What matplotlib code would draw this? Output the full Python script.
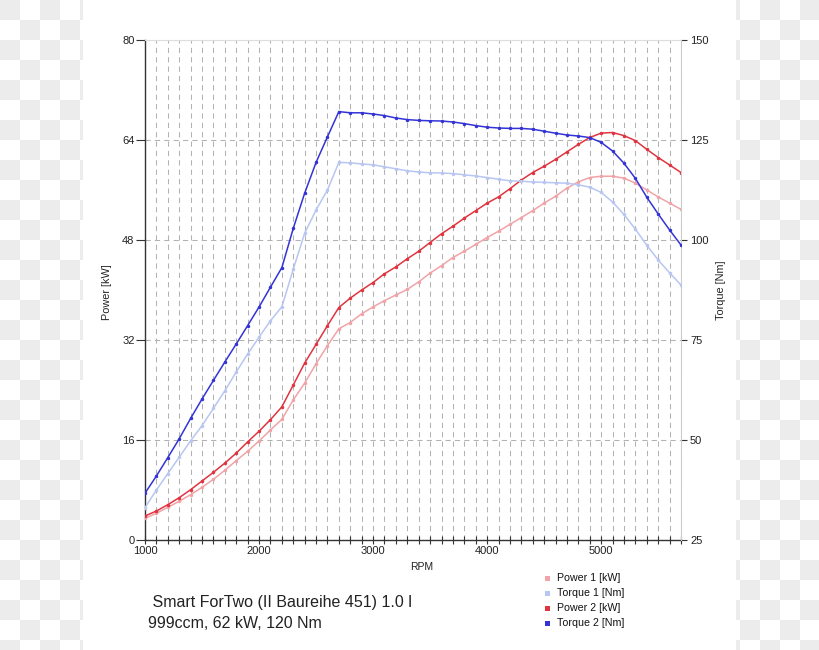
import matplotlib
matplotlib.use("Agg")
import matplotlib.pyplot as plt
from matplotlib.patches import Rectangle
from matplotlib.ticker import MultipleLocator

plt.rcParams['font.family'] = ['Liberation Sans', 'DejaVu Sans']

rpm = list(range(1000, 5800, 100))

power1 = [3.47, 4.27, 5.23, 6.19, 7.25, 8.43, 9.71, 11.15, 12.7, 14.2,
          15.84, 17.6, 19.3, 22.4, 25.1, 28.2, 31.1, 33.8, 34.8, 36.2,
          37.3, 38.3, 39.2, 40.1, 41.3, 42.7, 43.9, 45.2, 46.2, 47.3,
          48.4, 49.4, 50.5, 51.6, 52.7, 53.9, 55.0, 56.3, 57.3, 58.0,
          58.2, 58.2, 57.9, 57.1, 56.0, 54.9, 53.9, 52.9]
torque1 = [33.1, 37.5, 41.6, 45.7, 49.8, 53.6, 57.9, 62.3, 67.0, 71.5,
           75.7, 79.8, 83.3, 92.7, 101.7, 107.5, 112.5, 119.4, 119.3, 119.0,
           118.8, 118.3, 117.8, 117.3, 117.0, 116.8, 116.75, 116.6, 116.3, 116.0,
           115.6, 115.2, 114.8, 114.7, 114.5, 114.4, 114.3, 114.2, 113.8, 113.2,
           111.9, 109.5, 106.4, 102.7, 98.7, 95.0, 91.8, 88.75]
power2 = [3.84, 4.64, 5.65, 6.77, 8.05, 9.44, 10.83, 12.3, 13.9, 15.7,
          17.4, 19.25, 21.3, 24.8, 28.3, 31.3, 34.3, 37.2, 38.7, 40.0,
          41.2, 42.6, 43.7, 45.0, 46.2, 47.6, 49.0, 50.2, 51.5, 52.7,
          53.9, 54.9, 56.2, 57.6, 58.8, 59.8, 60.9, 62.1, 63.3, 64.4,
          65.1, 65.2, 64.7, 63.9, 62.5, 61.2, 60.0, 58.8]
torque2 = [36.7, 41.0, 45.6, 50.3, 55.4, 60.25, 64.9, 69.5, 74.0, 78.6,
           83.25, 88.2, 93.1, 102.9, 111.7, 119.4, 125.8, 132.1, 131.8, 131.8,
           131.5, 131.1, 130.5, 130.1, 129.9, 129.8, 129.75, 129.5, 129.1, 128.6,
           128.2, 128.0, 127.9, 127.9, 127.7, 127.2, 126.7, 126.25, 126.0, 125.6,
           124.4, 122.25, 119.2, 115.4, 110.7, 106.5, 102.5, 98.75]

series_names = ["Power 1 [kW]", "Torque 1 [Nm]", "Power 2 [kW]", "Torque 2 [Nm]"]
series_colors = ["#f0a4a8", "#b8c6f2", "#e03440", "#3434d6"]

power_ticks = [0, 16, 32, 48, 64, 80]
torque_ticks = [25, 50, 75, 100, 125, 150]
rpm_ticks = [1000, 2000, 3000, 4000, 5000]

title_line1 = " Smart ForTwo (II Baureihe 451) 1.0 l"
title_line2 = "999ccm, 62 kW, 120 Nm"

W, H = 820, 650
fig = plt.figure(figsize=(W / 100, H / 100), dpi=100)
fig.patch.set_facecolor("white")

# checkerboard background strips (transparent image pattern)
sq = 20
for (x0, x1) in [(0, 83), (736, 820)]:
    for cx in range(0, W, sq):
        lo, hi = max(cx, x0), min(cx + sq, x1)
        if hi <= lo:
            continue
        for cy in range(0, H, sq):
            if ((cx // sq) + (cy // sq)) % 2 == 0:
                fig.patches.append(Rectangle((lo / W, 1 - (cy + sq) / H), (hi - lo) / W, sq / H,
                                             transform=fig.transFigure, facecolor="#ececec",
                                             edgecolor="none", zorder=0))

left, right, top, bottom = 145, 681, 40, 540
ax = fig.add_axes([left / W, 1 - bottom / H, (right - left) / W, (bottom - top) / H])
ax.set_facecolor("white")
ax.set_xlim(1000, 5700)
ax.set_ylim(0, 80)
ax2 = ax.twinx()
ax2.set_ylim(25, 150)

# grid
ax.xaxis.set_major_locator(MultipleLocator(1000))
ax.xaxis.set_minor_locator(MultipleLocator(100))
ax.set_xticks(rpm_ticks)
ax.set_yticks(power_ticks)
ax2.set_yticks(torque_ticks)
gstyle = dict(color="#b2b2b2", linestyle=(0, (5, 4)), linewidth=0.75)
ax.grid(True, which="both", axis="x", **gstyle)
ax.grid(True, which="major", axis="y", **gstyle)
ax.set_axisbelow(True)

for s in ["left", "bottom"]:
    ax.spines[s].set_color("#333333")
    ax.spines[s].set_linewidth(1.0)
ax.spines["top"].set_color("#dddddd")
ax.spines["right"].set_visible(False)
ax2.spines["left"].set_visible(False)
ax2.spines["bottom"].set_visible(False)
ax2.spines["top"].set_visible(False)
ax2.spines["right"].set_color("#cccccc")

ax.tick_params(axis="x", which="major", direction="inout", length=5.5, width=0.8, color="#333333",
               labelsize=8, labelcolor="#222222", pad=1.5)
ax.tick_params(axis="x", which="minor", direction="inout", length=5.5, width=0.8, color="#333333")
ax.tick_params(axis="y", which="major", direction="out", length=6.5, width=0.8, color="#333333",
               labelsize=8, labelcolor="#222222", pad=1)
ax2.tick_params(axis="y", which="major", direction="out", length=4.5, width=0.8, color="#333333",
                labelsize=8, labelcolor="#222222", pad=2)

ax.set_xlabel("RPM", fontsize=7.5, color="#222222")
ax.xaxis.set_label_coords(0.517, -0.045)
ax.set_ylabel("Power [kW]", fontsize=7.8, color="#222222")
ax.yaxis.set_label_coords(-0.062, 0.495)
ax2.set_ylabel("Torque [Nm]", fontsize=7.8, color="#222222")
ax2.yaxis.set_label_coords(1.065, 0.5)

lw, ms = 1.1, 1.5
ax.plot(rpm, power1, color=series_colors[0], lw=lw, marker="o", ms=ms, zorder=3)
ax.plot(rpm, power2, color=series_colors[2], lw=lw, marker="o", ms=ms, zorder=4)
ax2.plot(rpm, torque1, color=series_colors[1], lw=lw, marker="o", ms=ms, zorder=3)
ax2.plot(rpm, torque2, color=series_colors[3], lw=lw, marker="o", ms=ms, zorder=4)

# legend
for i, (name, col) in enumerate(zip(series_names, series_colors)):
    yc = 578 + 15 * i
    fig.patches.append(Rectangle((545 / W, 1 - (yc + 2.5) / H), 5 / W, 5 / H,
                                 transform=fig.transFigure, facecolor=col, edgecolor="none"))
    fig.text(557 / W, 1 - yc / H, name, fontsize=7.7, color="#111111", va="center", ha="left")

fig.text(148 / W, 1 - 603 / H, title_line1, fontsize=11.5, color="#222222", va="center", ha="left")
fig.text(148 / W, 1 - 623 / H, title_line2, fontsize=11.5, color="#222222", va="center", ha="left")

fig.savefig("out.png", dpi=100)
